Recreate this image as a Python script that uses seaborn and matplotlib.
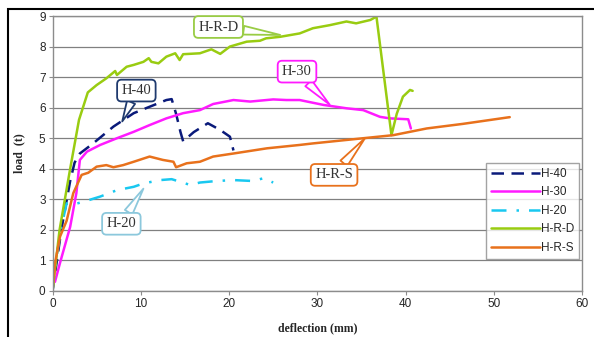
import matplotlib
matplotlib.use('Agg')
import matplotlib.pyplot as plt
from matplotlib.patches import Rectangle
import seaborn as sns
import pandas as pd

# deflection (mm) / load (t)
h40_x = [0, 0.5, 1.0, 1.5, 2.0, 2.5, 3.1, 4.6, 6.9, 9.2, 11.0, 12.9, 13.5, 14.0, 14.5, 14.8, 16.0, 17.6, 19.0, 20.1, 20.5]
h40_y = [0, 1.0, 2.0, 2.8, 3.6, 4.2, 4.5, 4.83, 5.38, 5.82, 6.03, 6.25, 6.28, 5.8, 5.2, 4.9, 5.2, 5.49, 5.27, 5.05, 4.6]

h30_x = [0.28, 0.85, 2.0, 2.7, 3.1, 3.9, 5.4, 7.3, 9.2, 11.0, 12.9, 14.8, 16.7, 18.2, 20.5, 22.4, 25.0, 26.5,
         28.0, 30.7, 33.3, 35.2, 37.1, 38.2, 40.3, 40.6]
h30_y = [0.3, 0.92, 2.1, 3.2, 4.29, 4.56, 4.78, 5.0, 5.21, 5.43, 5.65, 5.82, 5.92, 6.12, 6.25, 6.2, 6.27, 6.25,
         6.25, 6.09, 5.98, 5.92, 5.7, 5.65, 5.62, 5.32]

h20_x = [0, 0.5, 1.0, 1.6, 2.2, 3.5, 5.4, 7.3, 9.2, 10.3, 12.2, 13.5, 14.4, 15.6, 16.7, 18.6, 20.5, 22.7, 23.9, 25.0]
h20_y = [0, 1.2, 2.1, 2.87, 2.82, 2.92, 3.09, 3.3, 3.41, 3.52, 3.63, 3.66, 3.58, 3.47, 3.55, 3.6, 3.63, 3.6, 3.69, 3.55]

hrd_x = [0, 0.8, 2.0, 3.0, 4.0, 5.0, 6.1, 7.1, 7.3, 8.4, 9.2, 10.3, 10.9, 11.2, 12.0, 12.9, 13.9, 14.4, 14.8,
         16.7, 18.0, 19.0, 20.1, 22.0, 23.5, 24.2, 25.8, 28.0, 29.5, 31.4, 33.3, 34.4, 36.0, 36.7, 38.4, 39.0,
         39.7, 40.5, 40.8]
hrd_y = [0, 2.0, 4.0, 5.6, 6.5, 6.74, 6.96, 7.2, 7.07, 7.34, 7.4, 7.5, 7.62, 7.5, 7.45, 7.67, 7.78, 7.56, 7.75,
         7.78, 7.91, 7.76, 8.0, 8.16, 8.19, 8.27, 8.32, 8.43, 8.6, 8.7, 8.82, 8.76, 8.87, 8.98, 5.1, 5.8,
         6.36, 6.58, 6.55]

hrs_x = [0, 0.28, 0.85, 1.6, 2.35, 3.3, 4.05, 5.0, 6.1, 6.9, 8.0, 9.2, 11.0, 12.5, 13.7, 14.0, 15.2, 16.7,
         18.2, 20.5, 24.3, 28.0, 29.5, 35.2, 38.6, 42.4, 46.5, 51.8]
hrs_y = [0, 0.9, 1.78, 2.3, 3.2, 3.8, 3.87, 4.07, 4.12, 4.05, 4.12, 4.23, 4.4, 4.29, 4.23, 4.05, 4.18, 4.23,
         4.4, 4.5, 4.67, 4.78, 4.83, 5.0, 5.1, 5.32, 5.47, 5.69]

series = ['H-40', 'H-30', 'H-20', 'H-R-D', 'H-R-S']
colors = {'H-40': '#0a1a7a', 'H-30': '#ff1aff', 'H-20': '#19c8f0', 'H-R-D': '#99cc11', 'H-R-S': '#e8711c'}
styles = {'H-40': (0, (5, 3)), 'H-30': '-', 'H-20': (0, (6, 4, 1, 4)), 'H-R-D': '-', 'H-R-S': '-'}
data = {'H-40': (h40_x, h40_y), 'H-30': (h30_x, h30_y), 'H-20': (h20_x, h20_y),
        'H-R-D': (hrd_x, hrd_y), 'H-R-S': (hrs_x, hrs_y)}

sns.set_style('white')
plt.rcParams['font.family'] = ['Liberation Sans', 'DejaVu Sans']

fig = plt.figure(figsize=(5.94, 3.37), dpi=100)
ax = fig.add_axes([0.0884, 0.1365, 0.8916, 0.816])

for name in series:
    x, y = data[name]
    df = pd.DataFrame({'deflection': x, 'load': y})
    sns.lineplot(data=df, x='deflection', y='load', ax=ax, sort=False, estimator=None,
                 color=colors[name], linestyle=styles[name], linewidth=1.8, label=name)

ax.set_xlim(0, 60)
ax.set_ylim(0, 9)
ax.set_xticks(range(0, 61, 10))
ax.set_yticks(range(0, 10))
ax.yaxis.grid(True, color='#808080', linewidth=0.9)
ax.set_axisbelow(True)
for s in ax.spines.values():
    s.set_color('#8c8c8c')
    s.set_linewidth(1.0)
ax.tick_params(axis='both', labelsize=8.5, length=3, color='#8c8c8c', pad=2, direction='out')
ax.tick_params(left=True, bottom=True)

ax.set_xlabel('deflection (mm)', family='Liberation Serif', fontweight='bold', fontsize=8.5, labelpad=9)
ax.set_ylabel('load  (t)', family='Liberation Serif', fontweight='bold', fontsize=8.5, labelpad=10)

leg = ax.legend(loc='upper right', bbox_to_anchor=(0.995, 0.465), fontsize=8.5, frameon=True,
                fancybox=False, edgecolor='#8c8c8c', handlelength=4.2, handletextpad=0.1,
                labelspacing=0.55, borderpad=0.4, borderaxespad=0)
leg.get_frame().set_linewidth(1.0)

# callout labels
callouts = [
    ('H-R-D', (25.8, 8.38), (18.8, 8.64)),
    ('H-40', (7.9, 5.55), (9.5, 6.56)),
    ('H-30', (31.4, 6.1), (27.7, 7.18)),
    ('H-20', (10.3, 3.35), (7.8, 2.2)),
    ('H-R-S', (35.4, 5.0), (31.9, 3.8)),
]
edge = {'H-R-D': '#99cc44', 'H-40': '#1f3a6e', 'H-30': '#ff1aff', 'H-20': '#8cc8dc', 'H-R-S': '#e8711c'}
for name, xy, xytext in callouts:
    ax.annotate(name, xy=xy, xytext=xytext, family='Liberation Serif', fontsize=10.5,
                ha='center', va='center', color='#333333',
                bbox=dict(boxstyle='round,pad=0.3,rounding_size=0.3', fc='white', ec=edge[name], lw=1.3),
                arrowprops=dict(arrowstyle='wedge,tail_width=0.6', fc='white', ec=edge[name], lw=1.3,
                                shrinkA=0, shrinkB=0))

# outer frame, open past the right and bottom edges
fig.patches.append(Rectangle((8 / 594, -0.2), 1.2, 0.2 + 1 - 9 / 337, transform=fig.transFigure,
                             fill=False, ec='black', lw=1.5))

fig.savefig('out.png', dpi=100)
